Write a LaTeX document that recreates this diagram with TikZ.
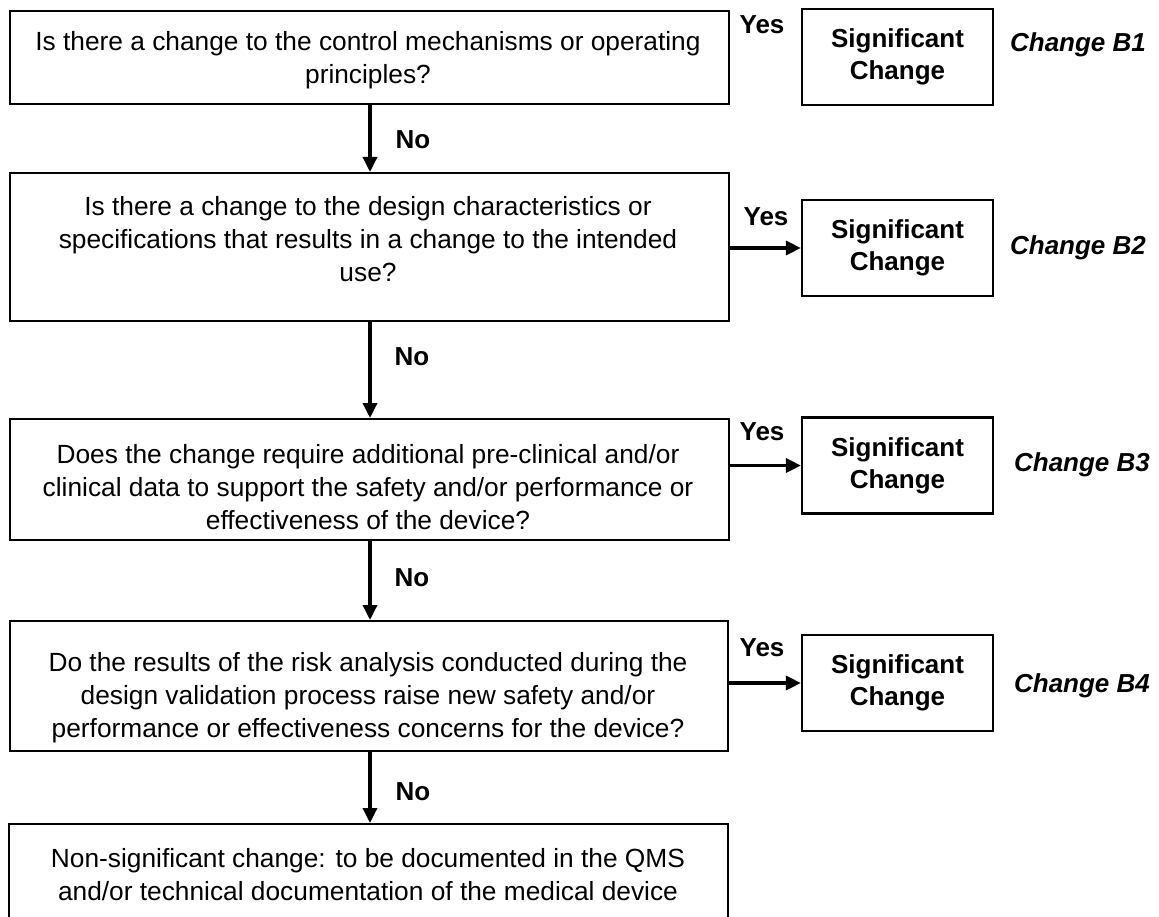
\documentclass[tikz,border=0pt]{standalone}
\usepackage{fontspec}
\setmainfont{Liberation Sans}
\usetikzlibrary{arrows.meta}
\begin{document}
\begin{tikzpicture}[x=1pt,y=-1pt,
  qbox/.style={draw, line width=2.2pt, anchor=north west, inner sep=0pt},
  qtext/.style={align=center, font=\fontsize{26.3}{33}\selectfont, inner sep=0pt},
  sbox/.style={draw, line width=2.2pt, minimum width=191pt, minimum height=96pt, align=center, font=\fontsize{26}{32}\selectfont\bfseries, inner sep=0pt},
  lbl/.style={font=\fontsize{26}{32}\selectfont\bfseries, inner sep=0pt},
  clbl/.style={font=\fontsize{26}{32}\selectfont\bfseries\itshape, inner sep=0pt},
  arr/.style={line width=3.4pt, -{Triangle[length=15pt,width=14pt]}}
]
\useasboundingbox (0,0) rectangle (1159,917);
\fill[white] (0,0) rectangle (1159,917);

% question boxes
\node[qbox, minimum width=719pt, minimum height=93pt] (b1) at (9,10) {};
\node[qbox, minimum width=719pt, minimum height=148pt] (b2) at (9,172) {};
\node[qbox, minimum width=719pt, minimum height=121pt] (b3) at (9,418) {};
\node[qbox, minimum width=718pt, minimum height=130pt] (b4) at (9,620) {};
\node[qbox, minimum width=719pt, minimum height=130pt] (b5) at (8,823) {};

\node[qtext] (t1) at (368,60) {Is there a change to the control mechanisms or operating\\principles?};
\node[qtext] (t2) at (368,239) {Is there a change to the design characteristics or\\specifications that results in a change to the intended\\use?};
\node[qtext] (t3) at (368,487) {Does the change require additional pre-clinical and/or\\clinical data to support the safety and/or performance or\\effectiveness of the device?};
\node[qtext] (t4) at (368,698) {Do the results of the risk analysis conducted during the\\design validation process raise new safety and/or\\performance or effectiveness concerns for the device?};
\node[qtext] (t5) at (368,875) {Non-significant change: to be documented in the QMS\\and/or technical documentation of the medical device};

% significant change boxes
\node[sbox] (s1) at (897.5,57) {Significant\\Change};
\node[sbox] (s2) at (897.5,248) {Significant\\Change};
\node[sbox] (s3) at (897.5,465.5) {Significant\\Change};
\node[sbox] (s4) at (897.5,683) {Significant\\Change};

% change labels
\node[clbl] (c1) at (1078,45) {Change B1};
\node[clbl] (c2) at (1078,248) {Change B2};
\node[clbl] (c3) at (1082,465) {Change B3};
\node[clbl] (c4) at (1082,686) {Change B4};

% vertical connectors
\coordinate (ax) at (370,0);
\draw[arr] (b1.south -| ax) -- (b2.north -| ax);
\draw[arr] (b2.south -| ax) -- (b3.north -| ax);
\draw[arr] (b3.south -| ax) -- (b4.north -| ax);
\draw[arr] (b4.south -| ax) -- (b5.north -| ax);

\node[lbl] (n1) at (413,140) {No};
\node[lbl] (n2) at (412,357) {No};
\node[lbl] (n3) at (412,578) {No};
\node[lbl] (n4) at (413,792) {No};

% yes connectors
\draw[arr] (b2.east |- s2) -- (s2.west);
\draw[arr] (b3.east |- s3) -- (s3.west);
\draw[arr] (b4.east |- s4) -- (s4.west);

\node[lbl] (y1) at (762,25) {Yes};
\node[lbl] (y2) at (766,217) {Yes};
\node[lbl] (y3) at (762,432) {Yes};
\node[lbl] (y4) at (762,648) {Yes};
\end{tikzpicture}
\end{document}
